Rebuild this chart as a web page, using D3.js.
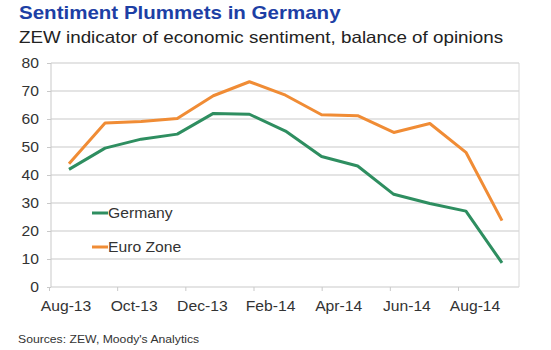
<!DOCTYPE html>
<html>
<head>
<meta charset="utf-8">
<script src="https://cdn.jsdelivr.net/npm/d3@7"></script>
<style>
  body { margin: 0; background: #fff; }
  text { font-family: "Liberation Sans", Arial, sans-serif; }
</style>
</head>
<body>
<svg id="chart" width="551" height="350"></svg>
<script>
// chart data
const months = ['Aug-13', 'Sep-13', 'Oct-13', 'Nov-13', 'Dec-13', 'Jan-14', 'Feb-14',
    'Mar-14', 'Apr-14', 'May-14', 'Jun-14', 'Jul-14', 'Aug-14'];
const germany = [42.0, 49.6, 52.8, 54.6, 62.0, 61.7, 55.7, 46.6, 43.2, 33.1, 29.8, 27.1, 8.6];
const euroZone = [44.0, 58.6, 59.1, 60.2, 68.3, 73.3, 68.5, 61.5, 61.2, 55.2, 58.4, 48.1, 23.7];
const yTicks = [0, 10, 20, 30, 40, 50, 60, 70, 80];
const xLabels = ['Aug-13', 'Oct-13', 'Dec-13', 'Feb-14', 'Apr-14', 'Jun-14', 'Aug-14'];

const svg = d3.select('#chart');
const plotLeft = 51, plotRight = 519, plotTop = 63, plotBottom = 287;

// the source image is a little stretched sideways, so widen glyphs to match
function stretch(sel, k) {
    sel.each(function () {
        const w = this.getComputedTextLength();
        d3.select(this).attr('textLength', w * k).attr('lengthAdjust', 'spacingAndGlyphs');
    });
}

const y = d3.scaleLinear().domain([0, 80]).range([plotBottom, plotTop]);
const x = d3.scalePoint().domain(months).range([69, 502]);
// axis ticks sit on a monthly grid that is a bit narrower than the data points
const xTick = d3.scaleLinear().domain([0, 12]).range([49, 458]);

// title
svg.append('text').attr('x', 19).attr('y', 19)
    .attr('font-size', 19).attr('font-weight', 'bold').attr('fill', '#1d3fa5')
    .text('Sentiment Plummets in Germany')
    .call(stretch, 1.08);
svg.append('text').attr('x', 19).attr('y', 43)
    .attr('font-size', 16.5).attr('fill', '#222')
    .text('ZEW indicator of economic sentiment, balance of opinions')
    .call(stretch, 1.14);

// grid
svg.selectAll('.grid')
    .data(yTicks)
    .enter().append('line')
    .attr('x1', plotLeft).attr('x2', plotRight)
    .attr('y1', d => y(d)).attr('y2', d => y(d))
    .attr('stroke', '#c9c9c9').attr('stroke-width', 1);

svg.append('line').attr('x1', plotLeft).attr('x2', plotLeft).attr('y1', plotTop).attr('y2', plotBottom)
    .attr('stroke', '#c9c9c9');
svg.append('line').attr('x1', plotRight).attr('x2', plotRight).attr('y1', plotTop).attr('y2', plotBottom)
    .attr('stroke', '#d8d8d8');

// y axis
const yAxis = svg.append('g').attr('transform', `translate(${plotLeft},0)`)
    .call(d3.axisLeft(y).tickValues(yTicks).tickSize(4).tickPadding(8));
yAxis.select('.domain').remove();
yAxis.selectAll('line').attr('stroke', '#c9c9c9');
yAxis.selectAll('text').attr('font-size', 14).attr('fill', '#333')
    .attr('font-family', '"Liberation Sans", Arial, sans-serif')
    .call(stretch, 1.12);

// x axis
const xAxis = svg.append('g').attr('transform', `translate(0,${plotBottom})`)
    .call(d3.axisBottom(xTick).tickValues([0, 2, 4, 6, 8, 10, 12]).tickSize(4).tickFormat(''));
xAxis.select('.domain').remove();
xAxis.selectAll('line').attr('stroke', '#c9c9c9');

svg.selectAll('.xlabel')
    .data(xLabels)
    .enter().append('text')
    .attr('x', (d, i) => xTick(i * 2 + 0.5))
    .attr('y', 311)
    .attr('text-anchor', 'middle')
    .attr('font-size', 14).attr('fill', '#333')
    .text(d => d)
    .call(stretch, 1.12);

// lines
const line = d3.line().x((d, i) => x(months[i])).y(d => y(d));

svg.append('path').datum(euroZone)
    .attr('d', line).attr('fill', 'none')
    .attr('stroke', '#f08c35').attr('stroke-width', 3).attr('stroke-linejoin', 'round');
svg.append('path').datum(germany)
    .attr('d', line).attr('fill', 'none')
    .attr('stroke', '#2e8e60').attr('stroke-width', 3).attr('stroke-linejoin', 'round');

// legend
const legend = [
    { name: 'Germany', color: '#2e8e60', y: 213 },
    { name: 'Euro Zone', color: '#f08c35', y: 247 }
];
legend.forEach(l => {
    svg.append('line').attr('x1', 92).attr('x2', 108).attr('y1', l.y).attr('y2', l.y)
        .attr('stroke', l.color).attr('stroke-width', 3);
    svg.append('text').attr('x', 108).attr('y', l.y + 5)
        .attr('font-size', 14).attr('fill', '#333').text(l.name)
        .call(stretch, 1.12);
});

// source
svg.append('text').attr('x', 18).attr('y', 343)
    .attr('font-size', 11.5).attr('fill', '#333')
    .text("Sources: ZEW, Moody's Analytics")
    .call(stretch, 1.06);
</script>
</body>
</html>
